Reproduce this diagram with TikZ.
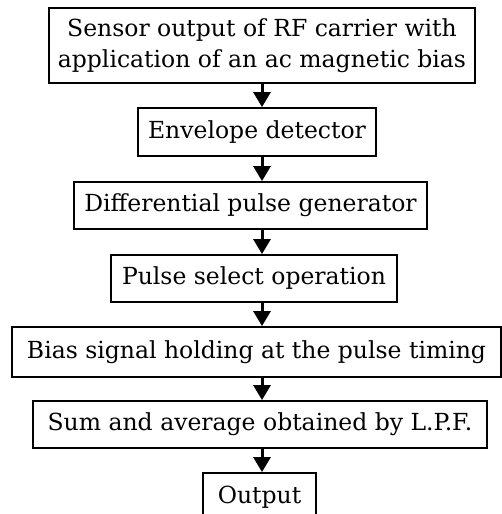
\documentclass[tikz,border=0pt]{standalone}
\usepackage{fontspec}
\setmainfont{DejaVu Serif}
\usetikzlibrary{arrows.meta}
\begin{document}
\begin{tikzpicture}[x=1pt,y=-1pt,
  box/.style={draw=black, line width=1.8pt, inner sep=0pt, align=center,
    font=\fontsize{23.5}{31}\selectfont},
  arr/.style={line width=3pt, -{Triangle[length=15pt,width=17pt]}}]
\useasboundingbox (0,0) rectangle (502,514);
\node[box, minimum width=426pt, minimum height=75pt] (b1) at (262,45.5)
  {Sensor output of RF carrier with\\application of an ac magnetic bias};
\node[box, minimum width=238pt, minimum height=48pt] (b2) at (257,132) {Envelope detector};
\node[box, minimum width=353pt, minimum height=47pt] (b3) at (250.5,205.5) {Differential pulse generator};
\node[box, minimum width=286pt, minimum height=47pt] (b4) at (254,278.5) {Pulse select operation};
\node[box, minimum width=489pt, minimum height=50pt] (b5) at (256.5,352) {Bias signal holding at the pulse timing};
\node[box, minimum width=454pt, minimum height=47pt] (b6) at (260,424.5) {Sum and average obtained by L.P.F.};
\node[box, minimum width=113pt, minimum height=48pt] (b7) at (259.5,497) {Output};
\coordinate (ax) at (262,0);
\draw[arr] (b1.south -| ax) -- (b2.north -| ax);
\draw[arr] (b2.south -| ax) -- (b3.north -| ax);
\draw[arr] (b3.south -| ax) -- (b4.north -| ax);
\draw[arr] (b4.south -| ax) -- (b5.north -| ax);
\draw[arr] (b5.south -| ax) -- (b6.north -| ax);
\draw[arr] (b6.south -| ax) -- (b7.north -| ax);
\end{tikzpicture}
\end{document}
